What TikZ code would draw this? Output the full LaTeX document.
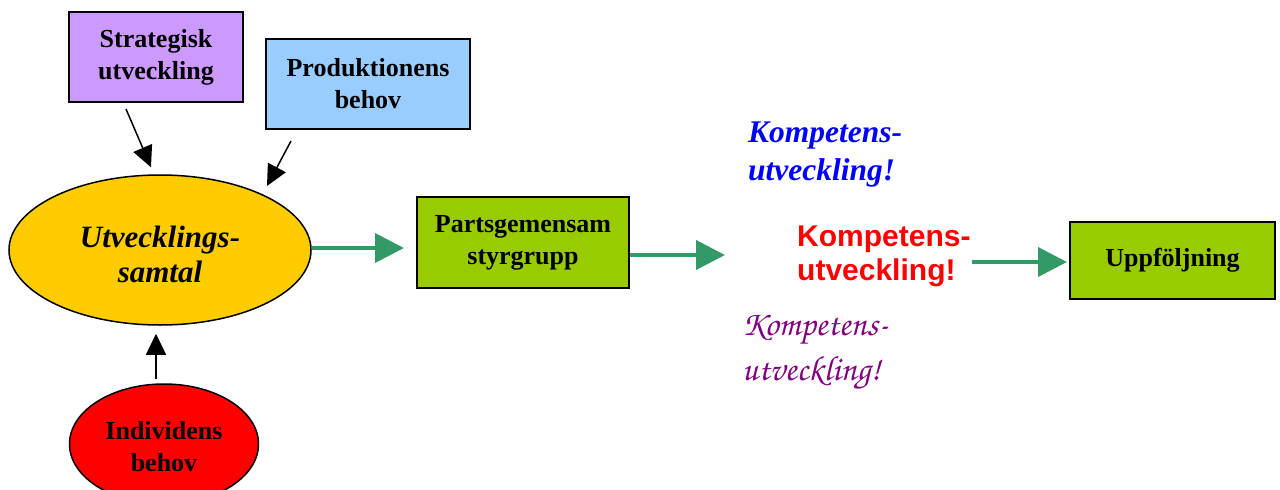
\documentclass[tikz,border=0pt]{standalone}
\usepackage[T1]{fontenc}
\usepackage{fontspec}
\setmainfont{Liberation Serif}
\newfontfamily\arialfont{Liberation Sans}
\usetikzlibrary{arrows.meta,shapes.geometric,calc}

\definecolor{lilac}{HTML}{CC99FF}
\definecolor{skyblue}{HTML}{99CCFF}
\definecolor{gold}{HTML}{FFCC00}
\definecolor{lime}{HTML}{99CC00}
\definecolor{flowgreen}{HTML}{339966}
\definecolor{plum}{HTML}{800080}

\newcommand{\chancery}{\fontencoding{T1}\fontfamily{pzc}\fontseries{mb}\fontshape{it}\selectfont}

\tikzset{
  infobox/.style={draw=black, line width=2pt, inner sep=0pt, align=center,
    font=\fontsize{26}{32}\selectfont\bfseries},
  bubble/.style={ellipse, draw=black, line width=1.5pt, inner sep=0pt, align=center},
  feed/.style={line width=1.5pt, -{Triangle[length=21pt,width=20pt]}},
  flow/.style={draw=flowgreen, line width=4pt, -{Triangle[length=29pt,width=29pt]}},
  slogan/.style={inner sep=0pt, anchor=base west, align=left},
}

\begin{document}
\begin{tikzpicture}[x=1pt,y=-1pt]
\useasboundingbox (0,0) rectangle (1280,490);

% input boxes
\node[infobox, fill=lilac, minimum width=174pt, minimum height=90pt] (strat) at (156,57)
  {Strategisk\\utveckling};
\node[infobox, fill=skyblue, minimum width=204pt, minimum height=90pt] (prod) at (368,84)
  {Produktionens\\behov};

% the development talk and the individual's needs
\node[bubble, fill=gold, minimum width=302pt, minimum height=150pt] (utv) at (160,250) {};
\node[font=\fontsize{31}{35}\selectfont\bfseries\itshape, align=center, inner sep=0pt]
  (utvtxt) at (160,254) {Utvecklings-\\samtal};
\node[bubble, fill=red, minimum width=189pt, minimum height=120pt] (ind) at (164,444) {};
\node[font=\fontsize{26}{32}\selectfont\bfseries, align=center, inner sep=0pt]
  (indtxt) at (164,447) {Individens\\behov};

% steering group and follow-up
\node[infobox, fill=lime, minimum width=212pt, minimum height=91pt] (part) at (523,242.5)
  {Partsgemensam\\styrgrupp};
\node[infobox, fill=lime, minimum width=205pt, minimum height=77pt] (uppf) at (1172.5,260.5)
  {Uppföljning};

% competence development, three ways (anchored at the baseline of the last line)
\node[slogan, text=blue, font=\fontsize{31.5}{38}\selectfont\bfseries\itshape] (kblue) at (748,180)
  {Kompetens-\\utveckling!};
\node[slogan, text=red, font=\arialfont\fontsize{30}{34}\selectfont\bfseries] (kred) at (797,280)
  {Kompetens-\\utveckling!};
\node[slogan, text=plum, font=\chancery\fontsize{35}{45}\selectfont] (kplum) at (742,380)
  {Kompetens-\\utveckling!};

% inputs into the talk
\draw[feed] ([xshift=-30pt,yshift=-6pt]strat.south) -- ([xshift=-9pt,yshift=7pt]utv.north);
\draw[feed] ([xshift=-77pt,yshift=-11pt]prod.south) -- ([xshift=107pt,yshift=64pt]utv.center);
\draw[feed] ([xshift=-8pt,yshift=4pt]ind.north) -- ([xshift=-4pt,yshift=-8pt]utv.south);

% main flow
\coordinate (flowend) at (725,255);
\coordinate (flowstart) at (972,262);
\draw[flow] ([yshift=2pt]utv.east) -- ([xshift=-12pt,yshift=-5.5pt]part.west);
\draw[flow] ([yshift=-12.5pt]part.east) -- (flowend);
\draw[flow] (flowstart) -- ([xshift=-2pt,yshift=-1.5pt]uppf.west);
\end{tikzpicture}
\end{document}
